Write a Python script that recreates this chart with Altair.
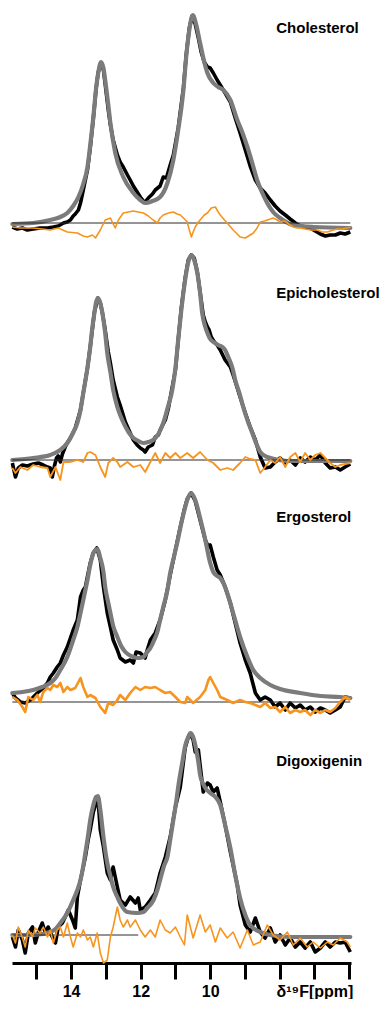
import altair as alt
import pandas as pd

# ---------------- data (ppm, intensity) ----------------
chol_fit = [(15.69,-1),(15.09,0),(14.60,3),(14.31,6),(14.11,10),(13.94,17),(13.79,26),(13.65,39),(13.53,56),(13.45,78),(13.36,106),(13.28,135),(13.22,150),(13.14,161),(13.07,155),(13.02,143),(12.93,118),(12.87,100),(12.73,70),(12.50,46),(12.21,30),(12.01,23),(11.87,20),(11.66,22),(11.44,26),(11.23,40),(11.06,63),(10.92,93),(10.77,133),(10.69,166),(10.60,193),(10.50,208),(10.40,198),(10.29,180),(10.17,161),(10.08,150),(9.91,140),(9.77,136),(9.62,133),(9.42,123),(9.22,103),(9.08,91),(8.93,76),(8.79,60),(8.65,43),(8.50,30),(8.36,20),(8.19,11),(7.99,5),(7.61,-2),(7.04,-4),(5.97,-5)]
chol_exp = [(15.69,-4),(15.55,-6),(15.40,-5),(15.26,-7),(15.09,-6),(14.89,-5),(14.68,-5),(14.51,-4),(14.37,-3),(14.22,0),(14.11,1),(14.02,3),(13.94,7),(13.88,9),(13.79,13),(13.73,20),(13.65,33),(13.53,53),(13.45,75),(13.36,105),(13.28,135),(13.22,151),(13.13,160),(13.07,153),(13.02,139),(12.93,113),(12.87,98),(12.79,83),(12.67,68),(12.59,61),(12.50,56),(12.38,48),(12.30,43),(12.21,37),(12.10,31),(12.01,26),(11.92,22),(11.87,21),(11.78,25),(11.66,29),(11.58,33),(11.44,37),(11.35,46),(11.26,45),(11.15,58),(11.06,68),(10.92,95),(10.77,135),(10.69,168),(10.60,195),(10.52,207),(10.43,199),(10.34,185),(10.26,171),(10.17,161),(10.08,156),(10.00,155),(9.91,150),(9.80,143),(9.71,138),(9.57,130),(9.42,121),(9.28,105),(9.14,90),(8.99,73),(8.85,57),(8.70,43),(8.56,35),(8.42,30),(8.27,23),(8.13,17),(7.99,12),(7.84,8),(7.70,4),(7.55,0),(7.41,-3),(7.27,-4),(7.12,-5),(6.98,-8),(6.83,-11),(6.69,-13),(6.55,-12),(6.40,-12),(6.26,-10),(6.12,-11),(5.97,-9)]
chol_res = [(15.69,-4),(15.46,-5),(15.09,-5),(14.83,-6),(14.60,-7),(14.37,-5),(14.11,-9),(13.82,-10),(13.65,-13),(13.53,-14),(13.39,-12),(13.30,-15),(13.16,-7),(13.02,3),(12.87,5),(12.79,-1),(12.73,-5),(12.64,3),(12.50,10),(12.35,11),(12.21,12),(12.07,11),(11.92,10),(11.78,7),(11.64,3),(11.52,0),(11.44,5),(11.35,8),(11.20,10),(11.06,11),(10.95,9),(10.86,8),(10.74,4),(10.66,1),(10.60,-7),(10.54,-14),(10.49,-9),(10.43,-4),(10.34,1),(10.29,3),(10.17,8),(10.08,10),(9.97,15),(9.85,16),(9.77,11),(9.71,8),(9.59,3),(9.51,0),(9.34,-7),(9.22,-11),(9.14,-14),(8.99,-15),(8.85,-12),(8.76,-10),(8.65,-5),(8.56,1),(8.44,2),(8.36,3),(8.27,4),(8.19,5),(8.07,3),(7.99,1),(7.87,2),(7.78,0),(7.70,-2),(7.61,-4),(7.50,-5),(7.41,-5),(7.27,-6),(7.12,-7),(6.92,-7),(6.78,-9),(6.63,-9),(6.46,-7),(6.35,-6),(6.20,-6),(6.06,-5),(5.97,-4)]

epi_fit = [(15.69,0),(15.09,2),(14.60,5),(14.31,10),(14.11,17),(13.96,26),(13.82,37),(13.73,50),(13.65,67),(13.53,92),(13.45,113),(13.39,132),(13.33,147),(13.28,158),(13.23,162),(13.16,157),(13.10,147),(13.02,127),(12.96,107),(12.87,88),(12.79,70),(12.67,53),(12.53,40),(12.35,28),(12.21,22),(12.07,19),(11.92,17),(11.78,18),(11.64,20),(11.49,26),(11.35,37),(11.20,55),(11.09,70),(11.00,92),(10.92,120),(10.83,150),(10.72,180),(10.63,198),(10.54,205),(10.46,200),(10.37,187),(10.29,167),(10.23,147),(10.14,133),(10.08,127),(10.00,121),(9.91,118),(9.77,115),(9.65,113),(9.57,110),(9.48,103),(9.36,92),(9.28,80),(9.16,67),(9.05,53),(8.93,40),(8.79,27),(8.67,16),(8.56,8),(8.42,4),(8.27,2),(7.78,-1),(5.97,-1)]
epi_exp = [(15.69,-3),(15.60,-17),(15.52,-8),(15.40,-5),(15.26,-6),(15.09,-4),(14.94,-3),(14.80,-5),(14.68,-7),(14.60,-8),(14.54,-17),(14.48,-6),(14.42,2),(14.37,4),(14.31,-2),(14.25,6),(14.17,13),(14.11,17),(14.02,22),(13.88,32),(13.73,50),(13.65,67),(13.53,92),(13.45,113),(13.33,148),(13.23,162),(13.16,157),(13.10,147),(13.02,130),(12.93,108),(12.87,97),(12.79,80),(12.67,63),(12.59,55),(12.44,38),(12.30,27),(12.21,20),(12.10,15),(12.01,12),(11.92,10),(11.87,8),(11.78,13),(11.66,15),(11.58,23),(11.49,25),(11.44,30),(11.29,40),(11.20,52),(11.15,62),(11.00,90),(10.92,120),(10.83,152),(10.72,182),(10.63,200),(10.54,205),(10.46,202),(10.37,188),(10.29,168),(10.20,145),(10.14,138),(10.08,133),(10.03,130),(9.97,123),(9.88,118),(9.80,115),(9.71,110),(9.57,100),(9.42,93),(9.34,85),(9.22,72),(9.14,63),(8.99,47),(8.85,33),(8.70,20),(8.56,3),(8.42,-8),(8.27,-7),(8.13,-2),(7.99,2),(7.84,-3),(7.70,0),(7.55,-5),(7.41,2),(7.27,-2),(7.12,3),(6.98,0),(6.83,5),(6.69,-3),(6.55,-8),(6.40,-7),(6.26,-10),(6.12,-7),(5.97,-4)]
epi_res = [(15.69,-8),(15.60,-13),(15.46,-7),(15.26,-10),(15.09,-5),(14.89,-7),(14.68,-8),(14.60,-17),(14.45,-7),(14.31,-20),(14.22,-2),(14.02,-2),(13.82,0),(13.65,-2),(13.53,7),(13.45,8),(13.30,5),(13.16,-7),(13.02,-17),(12.93,-3),(12.79,2),(12.67,-2),(12.59,-7),(12.38,-2),(12.21,-7),(12.01,-5),(11.87,-12),(11.72,-2),(11.58,7),(11.44,-3),(11.29,7),(11.15,2),(11.00,7),(10.86,2),(10.66,7),(10.49,2),(10.29,8),(10.08,0),(9.91,-3),(9.71,-10),(9.51,-8),(9.34,-10),(9.14,-3),(8.99,3),(8.85,1),(8.70,0),(8.56,-13),(8.42,-7),(8.27,0),(8.13,-3),(7.99,3),(7.84,-7),(7.70,3),(7.55,7),(7.41,-2),(7.27,7),(7.12,0),(6.98,5),(6.83,7),(6.69,2),(6.55,-3),(6.40,-7),(6.26,-5),(6.12,-4),(5.97,-3)]

ergo_fit = [(15.69,9),(15.40,10),(15.09,12),(14.83,15),(14.60,19),(14.45,24),(14.31,32),(14.11,45),(13.94,62),(13.82,75),(13.73,89),(13.62,107),(13.53,122),(13.45,137),(13.36,149),(13.25,153),(13.16,144),(13.07,130),(13.02,115),(12.93,99),(12.87,89),(12.79,76),(12.67,65),(12.56,56),(12.44,50),(12.21,45),(12.07,44),(11.92,45),(11.81,50),(11.72,54),(11.61,62),(11.52,70),(11.44,82),(11.35,95),(11.23,112),(11.15,129),(11.03,147),(10.95,159),(10.86,174),(10.74,192),(10.66,202),(10.55,209),(10.43,202),(10.29,184),(10.14,162),(10.00,139),(9.91,130),(9.80,126),(9.71,124),(9.62,119),(9.51,109),(9.34,89),(9.14,65),(8.93,45),(8.76,32),(8.56,24),(8.27,17),(7.99,13),(7.41,9),(6.83,6),(6.26,5),(5.97,4)]
ergo_exp = [(15.69,9),(15.60,4),(15.46,0),(15.32,-1),(15.17,2),(14.97,9),(14.80,14),(14.68,19),(14.60,25),(14.51,29),(14.40,35),(14.31,39),(14.22,47),(14.11,55),(14.02,64),(13.94,72),(13.82,82),(13.73,105),(13.65,112),(13.59,115),(13.51,129),(13.45,139),(13.36,149),(13.26,154),(13.16,142),(13.07,115),(12.96,89),(12.87,75),(12.79,62),(12.67,52),(12.59,44),(12.44,40),(12.30,42),(12.21,39),(12.13,50),(12.01,49),(11.87,44),(11.81,52),(11.72,62),(11.58,69),(11.44,82),(11.29,102),(11.15,127),(11.00,152),(10.86,175),(10.74,193),(10.66,203),(10.55,209),(10.43,201),(10.29,182),(10.14,162),(10.05,155),(10.00,157),(9.91,145),(9.80,132),(9.71,127),(9.57,115),(9.42,99),(9.28,79),(9.14,59),(8.99,42),(8.85,29),(8.70,9),(8.56,2),(8.42,5),(8.27,2),(8.13,-5),(7.99,-1),(7.84,-8),(7.70,-1),(7.55,-6),(7.41,-3),(7.27,-8),(7.12,-5),(6.98,-10),(6.83,-6),(6.69,-8),(6.55,-11),(6.40,-8),(6.26,-5),(6.12,5),(5.97,4)]
ergo_res = [(15.69,5),(15.55,2),(15.40,-5),(15.32,-10),(15.23,5),(15.09,2),(14.97,7),(14.89,0),(14.80,10),(14.68,14),(14.60,12),(14.51,17),(14.40,15),(14.31,19),(14.22,10),(14.11,15),(14.02,12),(13.88,14),(13.73,24),(13.65,15),(13.53,5),(13.45,7),(13.30,4),(13.16,-5),(13.02,-11),(12.93,-1),(12.79,-3),(12.67,2),(12.59,7),(12.44,2),(12.30,9),(12.15,15),(12.01,12),(11.87,15),(11.72,14),(11.58,15),(11.44,12),(11.29,9),(11.15,10),(11.00,5),(10.86,0),(10.72,-1),(10.66,5),(10.49,-1),(10.29,5),(10.14,12),(10.05,22),(10.00,25),(9.91,19),(9.80,12),(9.71,5),(9.51,2),(9.34,-1),(9.14,2),(8.99,0),(8.85,-1),(8.70,-3),(8.56,-5),(8.42,-1),(8.27,-6),(8.13,-5),(7.99,-10),(7.84,-5),(7.70,-11),(7.55,-8),(7.41,-10),(7.27,-8),(7.12,-13),(6.98,-8),(6.83,-11),(6.69,-8),(6.55,-10),(6.40,-6),(6.26,0),(6.12,5),(5.97,2)]

digo_fit = [(15.69,0),(15.09,0),(14.60,3),(14.45,6),(14.31,12),(14.11,22),(13.94,35),(13.82,45),(13.73,55),(13.65,69),(13.59,82),(13.51,100),(13.45,115),(13.36,130),(13.28,138),(13.23,139),(13.16,125),(13.07,98),(13.02,85),(12.96,72),(12.87,59),(12.79,48),(12.67,38),(12.59,32),(12.38,23),(12.10,22),(11.92,23),(11.81,27),(11.63,35),(11.52,45),(11.44,55),(11.32,70),(11.23,78),(11.15,95),(11.06,115),(10.97,135),(10.92,148),(10.80,173),(10.72,189),(10.63,198),(10.57,202),(10.49,198),(10.43,190),(10.34,173),(10.29,160),(10.20,151),(10.14,147),(10.00,142),(9.85,138),(9.71,130),(9.57,110),(9.42,87),(9.28,60),(9.14,37),(8.99,20),(8.85,10),(8.56,3),(8.27,0),(7.70,-2),(5.97,-2)]
digo_exp = [(15.69,-2),(15.60,-12),(15.52,5),(15.40,-5),(15.32,-18),(15.23,2),(15.11,8),(15.03,-8),(14.94,3),(14.83,12),(14.74,2),(14.66,8),(14.54,-2),(14.45,-8),(14.37,8),(14.25,12),(14.17,18),(14.08,25),(13.96,15),(13.88,7),(13.82,38),(13.73,55),(13.59,78),(13.51,95),(13.45,105),(13.36,123),(13.30,130),(13.23,138),(13.16,105),(13.07,88),(12.96,62),(12.87,55),(12.79,68),(12.67,48),(12.59,35),(12.44,30),(12.30,38),(12.15,32),(12.07,37),(12.01,25),(11.87,28),(11.72,35),(11.58,42),(11.44,62),(11.29,78),(11.15,98),(11.00,128),(10.86,148),(10.72,187),(10.63,198),(10.57,201),(10.49,195),(10.43,183),(10.34,185),(10.29,170),(10.20,143),(10.08,152),(10.00,150),(9.91,143),(9.80,147),(9.71,133),(9.57,110),(9.42,83),(9.34,70),(9.22,50),(9.14,30),(8.99,10),(8.85,3),(8.70,17),(8.56,3),(8.42,-3),(8.27,7),(8.13,-7),(7.99,0),(7.84,-10),(7.70,-3),(7.55,-12),(7.41,-7),(7.27,-13),(7.12,-7),(6.98,-17),(6.83,-13),(6.69,-7),(6.55,-12),(6.40,-7),(6.26,-8),(6.12,-7),(5.97,-17)]
digo_res = [(15.69,0),(15.60,-8),(15.52,8),(15.40,-3),(15.32,-12),(15.23,5),(15.11,-2),(15.03,7),(14.89,2),(14.80,8),(14.68,-2),(14.60,5),(14.51,-8),(14.40,5),(14.31,8),(14.22,-2),(14.11,12),(14.02,-2),(13.94,-12),(13.82,2),(13.73,-2),(13.65,5),(13.53,-5),(13.45,-2),(13.36,-12),(13.25,2),(13.16,-18),(13.07,-28),(12.96,-25),(12.87,-2),(12.79,8),(12.67,28),(12.59,15),(12.50,8),(12.38,15),(12.30,8),(12.15,15),(12.01,5),(11.87,-2),(11.72,5),(11.58,-2),(11.44,15),(11.29,5),(11.15,2),(11.00,8),(10.86,-2),(10.74,-10),(10.66,20),(10.49,-3),(10.29,20),(10.14,3),(10.00,10),(9.85,-7),(9.71,7),(9.51,-3),(9.34,3),(9.14,-13),(8.93,5),(8.76,-10),(8.56,-7),(8.36,10),(8.19,0),(7.99,-5),(7.78,3),(7.61,-10),(7.41,-3),(7.21,-12),(7.04,-7),(6.83,-13),(6.63,-7),(6.46,-10),(6.26,-3),(6.06,-7),(5.97,-12)]

names = ["Cholesterol", "Epicholesterol", "Ergosterol", "Digoxigenin"]
label_heights = [190, 162, 180, 169]          # label baseline, intensity units above each trace's zero
stack_offsets = [740, 503, 261, 28]           # vertical stacking offset of each trace (intensity units)
baseline_ends = [(15.69, 5.97), (15.69, 5.97), (15.69, 5.97), (15.69, 12.07)]
tick_values = [15, 14, 13, 12, 11, 10, 9, 8, 7, 6]

# ---------------- styling ----------------
FONT = "Liberation Sans"
BLACK = "#000000"
GREY = "#7b7b7b"
ORANGE = "#F7941E"
RES_WIDTHS = [1.6, 1.8, 2.6, 1.6]
W, H = 339, 955


def long_table(series):
    rows = []
    for i, pairs in enumerate(series):
        for p, v in pairs:
            rows.append({"ppm": p, "val": v, "panel": i, "y": v + stack_offsets[i]})
    return pd.DataFrame(rows)


exp_df = long_table([chol_exp, epi_exp, ergo_exp, digo_exp])
fit_df = long_table([chol_fit, epi_fit, ergo_fit, digo_fit])
res_df = long_table([chol_res, epi_res, ergo_res, digo_res])
base_df = long_table([[(a, 0), (b, 0)] for a, b in baseline_ends])
lbl_df = pd.DataFrame({
    "name": names,
    "ppm": [8.1] * 4,
    "y": [h + o for h, o in zip(label_heights, stack_offsets)],
})

x_axis = alt.Axis(
    values=tick_values, title=None, grid=False,
    domainColor=BLACK, domainWidth=3, domainCap="butt",
    tickColor=BLACK, tickWidth=3, tickSize=16,
    labelFont=FONT, labelFontSize=16, labelFontWeight="bold", labelColor=BLACK,
    labelPadding=4, labelOverlap=False, labelFlush=False,
    labelExpr="datum.value == 7 ? 'δ¹⁹F[ppm]' : ((datum.value == 14 || datum.value == 12 || datum.value == 10) ? datum.label : '')",
)
x = alt.X("ppm:Q", scale=alt.Scale(domain=[15.7, 5.95], nice=False, zero=False), axis=x_axis)
y = alt.Y("y:Q", scale=alt.Scale(domain=[0, H], nice=False, zero=False), axis=None)

exp_l = alt.Chart(exp_df).mark_line(color=BLACK, strokeWidth=3.6, strokeJoin="round").encode(
    x=x, y=y, detail="panel:N")
fit_l = alt.Chart(fit_df).mark_line(color=GREY, strokeWidth=4.2, interpolate="monotone", strokeCap="round").encode(
    x=x, y=y, detail="panel:N")
base_l = alt.Chart(base_df).mark_line(color="#2a2a2a", strokeWidth=1).encode(
    x=x, y=y, detail="panel:N")
res_layers = [
    alt.Chart(res_df[res_df["panel"] == i]).mark_line(color=ORANGE, strokeWidth=RES_WIDTHS[i], strokeJoin="round").encode(x=x, y=y)
    for i in range(4)
]
lbl = alt.Chart(lbl_df).mark_text(
    align="left", baseline="alphabetic", font=FONT, fontSize=15, fontWeight="bold", color=BLACK
).encode(x=x, y=y, text="name:N")

chart = (
    alt.layer(exp_l, fit_l, base_l, *res_layers, lbl)
    .properties(
        width=W, height=H,
        autosize=alt.AutoSizeParams(type="none"),
        padding={"left": 4, "top": 0, "right": 32, "bottom": 36},
        background="white",
    )
    .configure_view(stroke=None)
)

chart.save("out.html", embed_options={"renderer": "svg", "actions": False})
